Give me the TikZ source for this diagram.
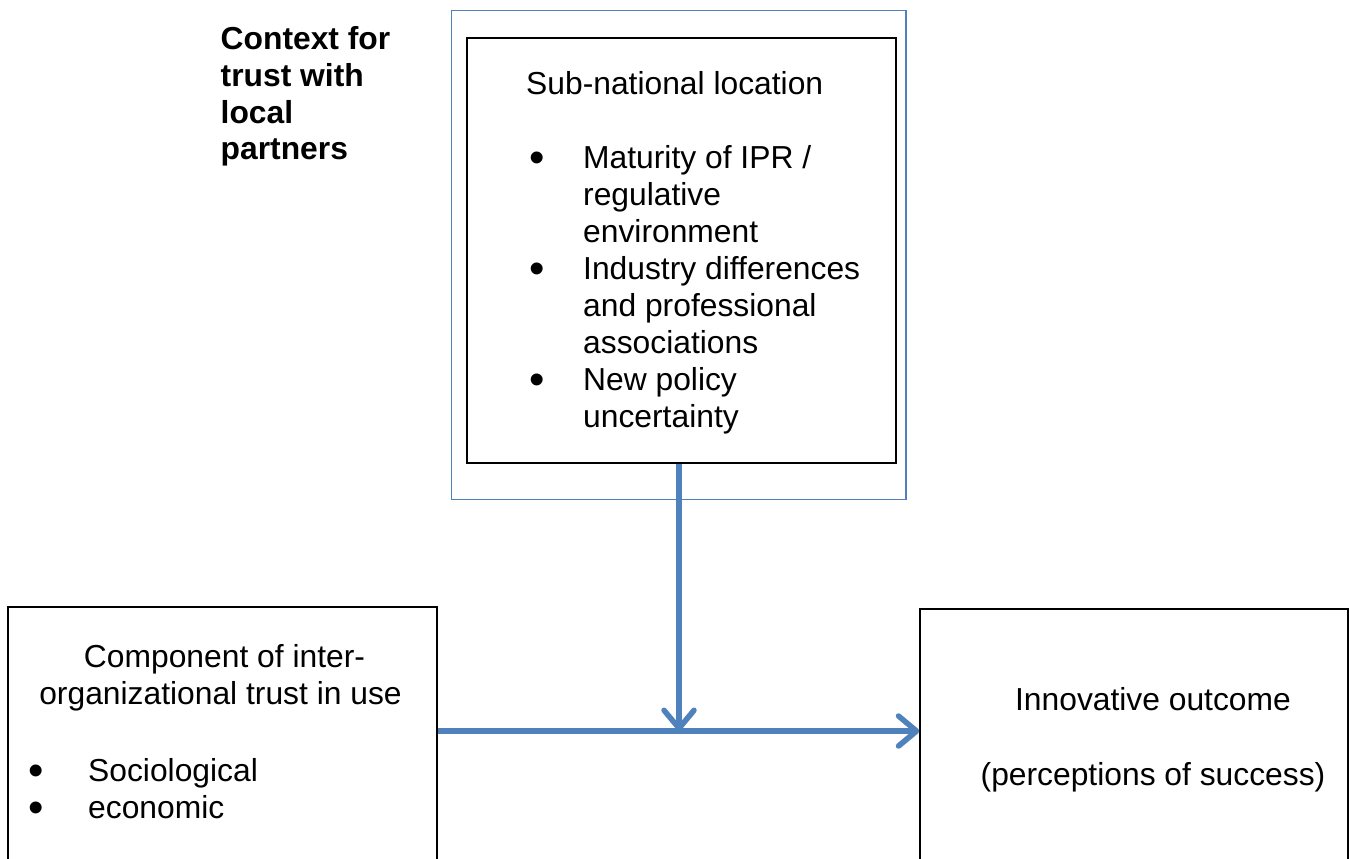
\documentclass[tikz,border=0pt]{standalone}
\usepackage{fontspec}
\setmainfont{Liberation Sans}
\usepackage{tikz}
\usetikzlibrary{arrows.meta, positioning, calc}
\definecolor{linkblue}{RGB}{79, 129, 189}

\begin{document}
\begin{tikzpicture}[x=1pt, y=-1pt,
		box/.style={draw=black, line width=1.5pt, rectangle, inner sep=0pt},
		frame/.style={draw=linkblue, line width=1.4pt, rectangle, inner sep=0pt},
		txt/.style={anchor=base west, inner sep=0pt, font=\fontsize{31.8}{36.8}\selectfont},
		heading/.style={txt, font=\fontsize{31.8}{36.8}\selectfont\bfseries},
		dot/.style={anchor=base, inner sep=0pt, font=\fontsize{31.8}{36.8}\selectfont},
		link/.style={draw=linkblue, line width=5.5pt,
			-{Straight Barb[length=18pt, width=30pt, line width=5.5pt, round]},
			preaction={draw=black!50, opacity=0.3, transform canvas={shift={(1.5pt,-2.5pt)}}}}]
			\useasboundingbox (0,0) rectangle (1349,859);
			\clip (0,0) rectangle (1349,859);

			% Context frame with the sub-national location box inside
			\node[frame, minimum width=454.5pt, minimum height=489pt] (context) at (678.75, 254.9) {};
			\node[box, minimum width=429pt, minimum height=425pt] (subloc) at (681.5, 250.5) {};

			% Heading beside the frame
			\foreach \line [count=\i] in {Context for, trust with, local, partners}
				\node[heading] (head\i) at (220.5, {50+36.5*(\i-1)}) {\line};

			% Location factors
			\node[txt] (locname) at (526, 94) {Sub-national location};
			\foreach \line/\yy [count=\i] in {{Maturity of IPR /}/168, regulative/205, environment/242,
				{Industry differences}/279, {and professional}/316, associations/353,
				{New policy}/390, uncertainty/427}
				\node[txt] (factor\i) at (583, \yy) {\line};
			\foreach \yy [count=\i] in {168, 279, 390}
				\node[dot] (fdot\i) at (537, \yy+4) {\scalebox{1.38}{\textbullet}};

			% Trust components (box runs off the bottom)
			\node[box, minimum width=429pt, minimum height=293pt] (trustuse) at (222.5, 753.5) {};
			\node[txt, anchor=base] (trusthead1) at (224.5, 667) {Component of inter-};
			\node[txt, anchor=base] (trusthead2) at (220.5, 704) {organizational trust in use};
			\foreach \line/\yy [count=\i] in {Sociological/781, economic/818} {
				\node[txt] (comp\i) at (88, \yy) {\line};
				\node[dot] (cdot\i) at (36, \yy+4) {\scalebox{1.38}{\textbullet}};
			}

			% Outcome box
			\node[box, minimum width=428pt, minimum height=291pt] (outcome) at (1134, 754.5) {};
			\node[txt, anchor=base] (outname) at (1153, 710) {Innovative outcome};
			\node[txt, anchor=base] (outnote) at (1153, 785) {(perceptions of success)};

			% Moderating and main effect arrows
			\coordinate (meet) at (679, 731);
			\draw[link] (trustuse.east |- meet) -- (outcome.west |- meet);
			\draw[link] (subloc.south -| meet) -- (meet);

		\end{tikzpicture}
\end{document}
